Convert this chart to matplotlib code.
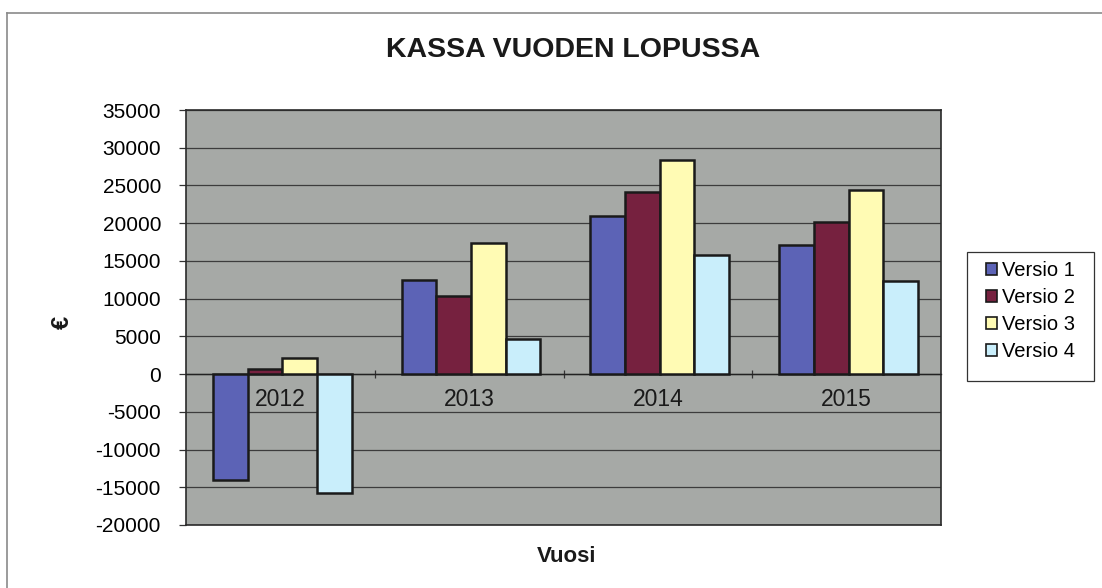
import matplotlib
matplotlib.use("Agg")
import matplotlib.pyplot as plt
import numpy as np
from matplotlib.lines import Line2D
from matplotlib.patches import Patch, Rectangle

years = ["2012", "2013", "2014", "2015"]
series_names = ["Versio 1", "Versio 2", "Versio 3", "Versio 4"]
versio1 = [-14000, 12500, 20900, 17100]
versio2 = [700, 10300, 24100, 20200]
versio3 = [2100, 17400, 28400, 24400]
versio4 = [-15800, 4600, 15800, 12300]
colors = ["#5c63b6", "#76213f", "#fffbb4", "#c9eefb"]

plt.rcParams['font.family'] = ['Liberation Sans', 'DejaVu Sans']

W, H = 1102, 588
fig = plt.figure(figsize=(W / 100, H / 100), dpi=100)
fig.patch.set_facecolor("white")

# axes in pixel coords
left, right, top, bottom = 186, 941, 110, 525
ax = fig.add_axes([left / W, 1 - bottom / H, (right - left) / W, (bottom - top) / H])
ax.set_facecolor("#a6a9a6")

data = [versio1, versio2, versio3, versio4]
x = np.arange(len(years))
bw = 0.184
for i, (vals, c, name) in enumerate(zip(data, colors, series_names)):
    ax.bar(x + (i - 1.5) * bw + 0.01, vals, width=bw, color=c, edgecolor="#1a1a1a",
           linewidth=1.8, label=name, zorder=3)

ax.set_xlim(-0.5, 3.5)
ax.set_ylim(-20000, 35000)
ax.set_yticks(np.arange(-20000, 35001, 5000))
ax.set_yticklabels([str(v) for v in range(-20000, 35001, 5000)], fontsize=15)
ax.yaxis.grid(True, color="#3c3c3c", linewidth=0.9, zorder=1)
ax.set_axisbelow(True)
ax.tick_params(axis='y', length=5, width=0.9, color="#333333", pad=13)

# category axis at zero
ax.spines['bottom'].set_position(('data', 0))
ax.spines['bottom'].set_color("#222222")
ax.spines['bottom'].set_linewidth(1.0)
ax.set_xticks([0.5, 1.5, 2.5])
ax.set_xticklabels([])
ax.tick_params(axis='x', direction='inout', length=6, width=0.9, color="#333333")
for i, yr in enumerate(years):
    ax.annotate(yr, xy=(i, 0), xytext=(0, -10), textcoords='offset points',
                ha='center', va='top', fontsize=16.5, color="#1a1a1a")

for s in ['left', 'top', 'right']:
    ax.spines[s].set_color("#2a2a2a")
    ax.spines[s].set_linewidth(1.2)
# bottom border of plot area
ax.axhline(-20000, color="#2a2a2a", linewidth=1.2, zorder=4, clip_on=False)

fig.text(573 / W, 1 - 50 / H, "KASSA VUODEN LOPUSSA", ha='center', va='center',
         fontsize=20.5, fontweight='bold', color="#1a1a1a")
fig.text(567 / W, 1 - 557 / H, "Vuosi", ha='center', va='center',
         fontsize=16, fontweight='bold', color="#1a1a1a")
fig.text(62 / W, 1 - 322 / H, "€", ha='center', va='center',
         fontsize=17, fontweight='bold', color="#1a1a1a", rotation=90)

# outer chart frame (partially visible)
fig.add_artist(Line2D([7 / W, 1.0], [1 - 13 / H, 1 - 13 / H], color="#8a8a8a", linewidth=1.2))
fig.add_artist(Line2D([7 / W, 7 / W], [1 - 13 / H, 0.0], color="#8a8a8a", linewidth=1.2))

# legend box
fig.add_artist(Rectangle((967 / W, 1 - 381 / H), (1094 - 967) / W, (381 - 252) / H,
                         transform=fig.transFigure, facecolor="white",
                         edgecolor="#333333", linewidth=0.9, zorder=2))
handles = [Patch(facecolor=c, edgecolor="#1a1a1a", linewidth=1.2) for c in colors]
leg = fig.legend(handles, series_names, loc='upper left',
                 bbox_to_anchor=(978 / W, 1 - 253 / H), fontsize=14.5,
                 frameon=False, handlelength=0.55, handleheight=0.55,
                 handletextpad=0.25, labelspacing=0.4, borderpad=0.4, borderaxespad=0)
leg.set_zorder(3)

fig.savefig("out.png", dpi=100)
